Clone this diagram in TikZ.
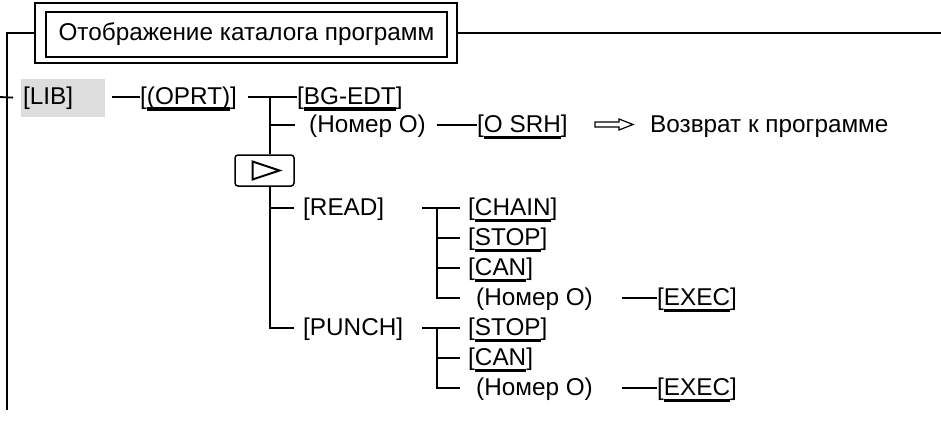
\documentclass[tikz,border=0pt]{standalone}
\usepackage{fontspec}
\setmainfont{Liberation Sans}
\usepackage{xcolor}
\usetikzlibrary{calc}
\definecolor{libgray}{RGB}{221,221,221}

% soft key: text in brackets with a thick bar under it
\newcommand{\ukey}[1]{\setbox0\hbox{#1}\rlap{\rule[-7pt]{\wd0}{3.5pt}}\box0}

\tikzset{
  txt/.style={inner sep=0pt, anchor=west, text height=18pt, text depth=4pt,
    font=\fontsize{24.3}{28}\selectfont},
  tree/.style={line width=1.8pt},
}

\begin{document}
\begin{tikzpicture}[x=1pt,y=-1pt]
\useasboundingbox (0,0) rectangle (941,425);

% title frame
\node[draw, line width=1.2pt, minimum width=401pt, minimum height=45pt, inner sep=0pt,
  font=\fontsize{24.3}{28}\selectfont] (title) at (246.5,34.5) {Отображение каталога программ};
\node[draw, line width=2pt, minimum width=422pt, minimum height=60pt] (frame) at (246,33) {};

\coordinate (lt) at (7,33);
\coordinate (lb) at (7,410);
\coordinate (rt) at (941,33);
\coordinate (tk) at (0,97);

\draw[tree] (frame.west) -- (lt) -- (lb);
\draw[tree] (frame.east) -- (rt);

% first level
\node[txt, fill=libgray, anchor=base west, text height=25pt, text depth=13pt,
  text width=80pt, inner xsep=2pt, align=left] (lib) at (21,104) {[LIB]};
\node[txt] (oprt) at (140,97) {[\ukey{(OPRT)}]};
\node[txt] (bgedt) at (297,97) {[\ukey{BG-EDT}]};
\node[txt] (num1) at (309,125) {(Номер O)};
\node[txt] (osrh) at (477,125) {[\ukey{O SRH}]};
\node[txt] (ret) at (650,125) {Возврат к программе};

\node[draw, rounded corners=3pt, line width=1.5pt, minimum width=59pt,
  minimum height=31pt] (menu) at (264.5,170.5) {};

\node[txt] (read) at (303,208) {[READ]};
\node[txt] (chain) at (468,208) {[\ukey{CHAIN}]};
\node[txt] (stop1) at (468,238) {[\ukey{STOP}]};
\node[txt] (can1) at (468,268) {[\ukey{CAN}]};
\node[txt] (num2) at (476,298) {(Номер O)};
\node[txt] (exec1) at (657,298) {[\ukey{EXEC}]};

\node[txt] (punch) at (303,328) {[PUNCH]};
\node[txt] (stop2) at (468,328) {[\ukey{STOP}]};
\node[txt] (can2) at (468,358) {[\ukey{CAN}]};
\node[txt] (num3) at (476,388) {(Номер O)};
\node[txt] (exec2) at (657,388) {[\ukey{EXEC}]};

\coordinate (d1) at (112,97);
\coordinate (t1) at (248,97);
\coordinate (j1) at (270,97);
\coordinate (j2) at (270,328);
\coordinate (d2) at (437,125);
\coordinate (t2) at (422,208);
\coordinate (j3) at (437,208);
\coordinate (d3) at (622,298);
\coordinate (t3) at (422,328);
\coordinate (j4) at (437,328);
\coordinate (d4) at (622,388);

\draw[tree, shorten >=8pt] (tk) -- (lib.west);
\draw[tree] (d1) -- (oprt.west);
\draw[tree] (t1) -- (bgedt.west);
\draw[tree] (j1) -- (j1 |- menu.north);
\draw[tree, shorten >=14pt] (num1.west -| j1) -- (num1.west);
\draw[tree] (d2) -- (osrh.west);

% menu key
\draw[line width=2pt, line join=miter] ($(menu.center)+(-12,-9)$) -- ($(menu.center)+(15,0)$)
  -- ($(menu.center)+(-12,9)$) -- cycle;

\draw[tree, shorten >=9pt] (j1 |- menu.south) -- (j2) -- (punch.west);
\draw[tree, shorten >=9pt] (read.west -| j1) -- (read.west);

% READ
\draw[tree, shorten >=8pt] (t2) -- (chain.west);
\draw[tree, shorten >=16pt] (j3) |- (num2.west);
\draw[tree, shorten >=8pt] (stop1.west -| j3) -- (stop1.west);
\draw[tree, shorten >=8pt] (can1.west -| j3) -- (can1.west);
\draw[tree] (d3) -- (exec1.west);

% PUNCH
\draw[tree, shorten >=8pt] (t3) -- (stop2.west);
\draw[tree, shorten >=16pt] (j4) |- (num3.west);
\draw[tree, shorten >=8pt] (can2.west -| j4) -- (can2.west);
\draw[tree] (d4) -- (exec2.west);

% return arrow
\draw[line width=1.2pt] (595,122) -- (619,122) -- (619,119) -- (633,124.5) -- (619,130)
  -- (619,127) -- (595,127) -- cycle;

\end{tikzpicture}
\end{document}
